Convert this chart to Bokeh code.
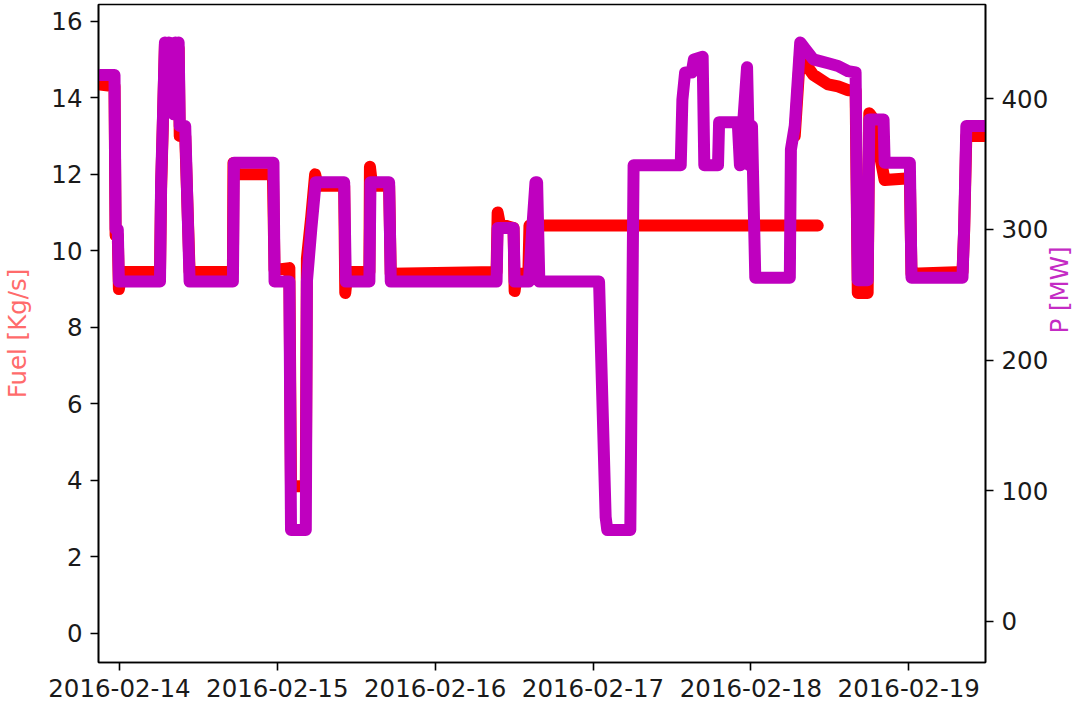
import math
import numpy as np
import pandas as pd
from bokeh.plotting import figure
from bokeh.models import Range1d, LinearAxis, DatetimeTickFormatter, FixedTicker
from bokeh.embed import file_html
from bokeh.resources import INLINE

# ---- data ----
fuel_time = [
    "2016-02-13 21:05", "2016-02-13 23:15", "2016-02-13 23:25", "2016-02-13 23:45",
    "2016-02-13 23:55", "2016-02-14 00:20", "2016-02-14 06:10", "2016-02-14 06:20",
    "2016-02-14 06:35", "2016-02-14 06:55", "2016-02-14 07:15", "2016-02-14 07:30",
    "2016-02-14 07:45", "2016-02-14 08:00", "2016-02-14 08:15", "2016-02-14 08:30",
    "2016-02-14 08:45", "2016-02-14 09:00", "2016-02-14 09:10", "2016-02-14 10:00",
    "2016-02-14 10:40", "2016-02-14 17:15", "2016-02-14 17:20",
    "2016-02-14 17:40", "2016-02-14 23:20", "2016-02-14 23:35", "2016-02-15 01:50",
    "2016-02-15 02:05", "2016-02-15 04:20", "2016-02-15 04:30", "2016-02-15 05:10",
    "2016-02-15 05:45", "2016-02-15 06:10", "2016-02-15 10:10", "2016-02-15 10:20",
    "2016-02-15 10:40", "2016-02-15 14:00", "2016-02-15 14:05", "2016-02-15 14:25",
    "2016-02-15 17:00", "2016-02-15 17:15", "2016-02-16 09:20", "2016-02-16 09:30",
    "2016-02-16 09:50", "2016-02-16 11:55", "2016-02-16 12:05", "2016-02-16 12:25",
    "2016-02-16 14:10", "2016-02-16 14:20", "2016-02-18 10:10", "2016-02-18 10:10",
    "2016-02-18 06:40", "2016-02-18 07:30", "2016-02-18 08:15", "2016-02-18 09:30",
    "2016-02-18 11:45", "2016-02-18 13:15", "2016-02-18 14:45", "2016-02-18 15:55",
    "2016-02-18 16:15", "2016-02-18 17:45", "2016-02-18 18:00", "2016-02-18 18:50",
    "2016-02-18 19:30", "2016-02-18 20:20", "2016-02-19 00:10", "2016-02-19 00:25",
    "2016-02-19 08:10", "2016-02-19 08:25", "2016-02-19 08:45", "2016-02-19 11:40",
]
fuel_kgs = [
    14.35, 14.3, 10.4, 10.4,
    9.0, 9.45, 9.45, 11.6,
    13.2, 15.4, 13.8, 15.4,
    13.7, 15.3, 13.6, 15.4,
    13.8, 15.3, 13.0, 13.0,
    9.45, 9.45, 12.3,
    12.0, 12.0, 9.5, 9.55,
    3.85, 3.85, 9.8, 10.9,
    12.0, 11.7, 11.7, 8.9,
    9.45, 9.45, 12.2, 11.7,
    11.7, 9.4, 9.45, 11.0,
    10.7, 10.6, 8.95, 9.4,
    9.4, 10.66, 10.66, None,
    13.0, 15.2, 14.9, 14.6,
    14.35, 14.3, 14.2, 14.2,
    8.9, 8.9, 13.6, 13.4,
    12.6, 11.85, 11.9, 9.4,
    9.45, 10.5, 13.0, 13.0,
]

power_time = [
    "2016-02-13 21:05", "2016-02-13 23:15", "2016-02-13 23:25", "2016-02-13 23:45",
    "2016-02-13 23:55", "2016-02-14 06:10", "2016-02-14 06:20", "2016-02-14 06:35",
    "2016-02-14 06:55", "2016-02-14 07:15", "2016-02-14 07:30", "2016-02-14 07:45",
    "2016-02-14 08:00", "2016-02-14 08:15", "2016-02-14 08:30", "2016-02-14 08:45",
    "2016-02-14 09:00", "2016-02-14 09:10", "2016-02-14 10:00",
    "2016-02-14 10:40", "2016-02-14 17:15", "2016-02-14 17:25", "2016-02-14 23:25",
    "2016-02-14 23:35", "2016-02-15 01:50", "2016-02-15 02:05", "2016-02-15 04:20",
    "2016-02-15 04:30", "2016-02-15 05:10", "2016-02-15 05:50", "2016-02-15 10:10",
    "2016-02-15 10:25", "2016-02-15 14:00", "2016-02-15 14:10", "2016-02-15 17:00",
    "2016-02-15 17:15", "2016-02-16 09:20", "2016-02-16 09:30", "2016-02-16 11:55",
    "2016-02-16 12:05", "2016-02-16 14:15", "2016-02-16 14:45", "2016-02-16 15:15",
    "2016-02-16 15:30", "2016-02-16 15:50", "2016-02-17 00:55", "2016-02-17 01:55",
    "2016-02-17 02:10", "2016-02-17 05:40", "2016-02-17 06:10", "2016-02-17 13:20",
    "2016-02-17 13:35", "2016-02-17 14:00", "2016-02-17 15:00", "2016-02-17 15:20",
    "2016-02-17 16:40", "2016-02-17 16:55", "2016-02-17 19:00", "2016-02-17 19:10",
    "2016-02-17 22:00", "2016-02-17 22:20", "2016-02-17 22:50", "2016-02-17 23:25",
    "2016-02-17 23:45", "2016-02-18 00:10", "2016-02-18 00:40", "2016-02-18 05:55",
    "2016-02-18 06:05", "2016-02-18 06:40", "2016-02-18 07:30", "2016-02-18 08:15",
    "2016-02-18 09:30", "2016-02-18 11:45", "2016-02-18 13:15", "2016-02-18 14:45",
    "2016-02-18 15:55", "2016-02-18 16:15", "2016-02-18 17:45", "2016-02-18 18:00",
    "2016-02-18 20:10", "2016-02-18 20:20", "2016-02-19 00:10", "2016-02-19 00:25",
    "2016-02-19 08:10", "2016-02-19 08:25", "2016-02-19 08:45", "2016-02-19 11:40",
]
power_mw = [
    418, 418, 300, 300,
    260, 260, 336, 379,
    443, 392, 443, 390,
    440, 388, 443, 392,
    443, 379, 379,
    260, 260, 351, 351,
    260, 260, 70, 70,
    260, 300, 336, 336,
    260, 260, 336, 336,
    260, 260, 301, 301,
    260, 260, 300, 336,
    336, 260, 260, 80,
    70, 70, 349, 349,
    399, 420, 420, 430,
    432, 349, 349, 382,
    382, 349, 382, 424,
    349, 379, 263, 263,
    361, 379, 443, 438,
    430, 427, 425, 421,
    420, 261, 261, 384,
    384, 351, 351, 263,
    263, 300, 379, 379,
]

date_ticks = ["2016-02-14", "2016-02-15", "2016-02-16", "2016-02-17", "2016-02-18", "2016-02-19"]
fuel_ticks = [0, 2, 4, 6, 8, 10, 12, 14, 16]
power_ticks = [0, 100, 200, 300, 400]

x_start = pd.Timestamp("2016-02-13 20:49")
x_end = pd.Timestamp("2016-02-19 11:40")

FONT = "DejaVu Sans"
FS = "24.5px"

p = figure(width=1091, height=704, x_axis_type="datetime",
           x_range=Range1d(x_start, x_end), y_range=Range1d(-0.76, 16.44),
           output_backend="svg", toolbar_location=None,
           min_border_left=98, min_border_right=103, min_border_top=4,
           min_border_bottom=42)
p.extra_y_ranges = {"power": Range1d(-31.4, 472)}

ft = pd.to_datetime(fuel_time)
fv = np.array([np.nan if v is None else v for v in fuel_kgs], dtype=float)
pt = pd.to_datetime(power_time)
pv = np.array(power_mw, dtype=float)

p.line(ft, fv, line_color="#ff0000", line_width=12, line_join="round", line_cap="round")
p.line(pt, pv, y_range_name="power", line_color="#bf00bf", line_width=12,
       line_join="round", line_cap="round")

right = LinearAxis(y_range_name="power", axis_label="P [MW]")
p.add_layout(right, "right")

p.xgrid.grid_line_color = None
p.ygrid.grid_line_color = None
p.outline_line_color = "black"
p.outline_line_width = 1.6
p.background_fill_color = "white"
p.border_fill_color = "white"

p.xaxis.ticker = FixedTicker(ticks=[pd.Timestamp(d).value // 10**6 for d in date_ticks])
fmt = "%Y-%m-%d"
p.xaxis.formatter = DatetimeTickFormatter(days=fmt, months=fmt, hours=fmt, years=fmt,
                                          minutes=fmt, hourmin=fmt, seconds=fmt)

left = p.left[0]
left.ticker = FixedTicker(ticks=fuel_ticks)
left.axis_label = "Fuel [Kg/s]"
left.axis_label_text_color = "#ff6b6b"
left.axis_label_standoff = 16

right.ticker = FixedTicker(ticks=power_ticks)
right.axis_label_text_color = "#c42bc4"
right.axis_label_standoff = 8
try:
    right.axis_label_orientation = math.pi / 2
except Exception:
    pass

for ax in [p.below[0], left, right]:
    ax.axis_line_color = "black"
    ax.axis_line_width = 1.6
    ax.major_tick_line_color = "black"
    ax.major_tick_line_width = 1.6
    ax.major_tick_out = 8
    ax.major_tick_in = 0
    ax.minor_tick_line_color = None
    ax.major_label_text_font = FONT
    ax.major_label_text_font_size = FS
    ax.major_label_text_color = "#1a1a1a"
    ax.major_label_standoff = 8
    ax.axis_label_text_font = FONT
    ax.axis_label_text_font_size = FS
    ax.axis_label_text_font_style = "normal"

open("out.html", "w").write(file_html(p, INLINE))
